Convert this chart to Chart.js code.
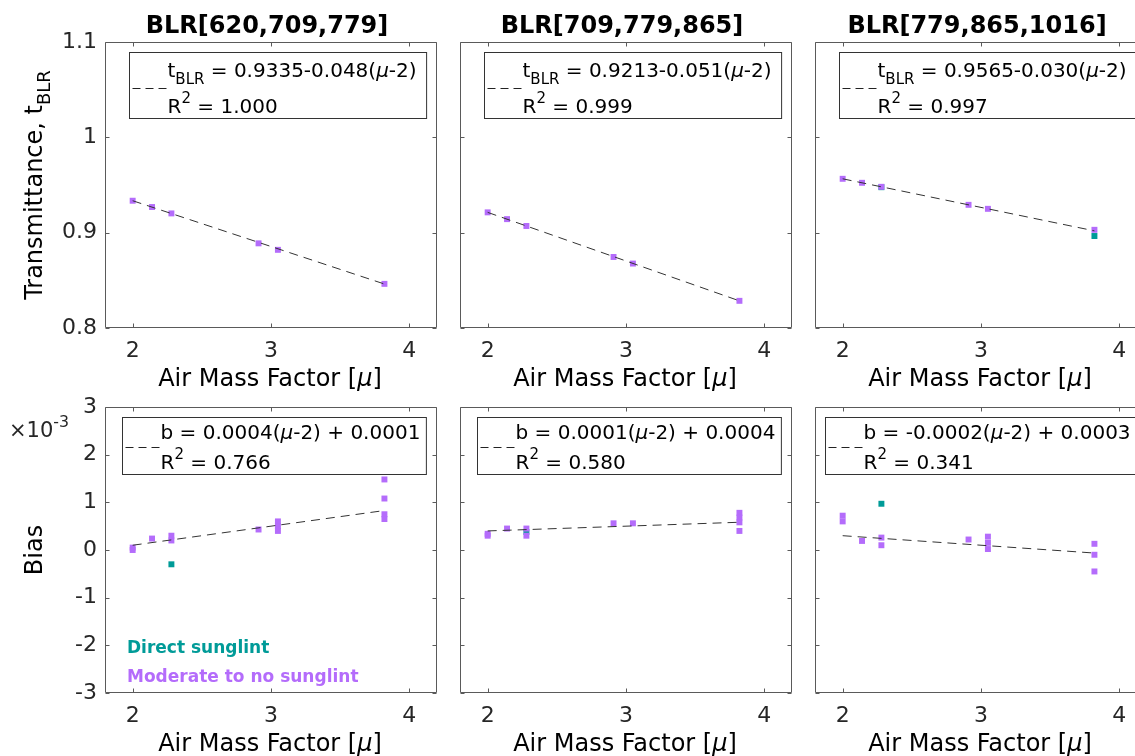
<!DOCTYPE html>
<html>
<head>
<meta charset="utf-8">
<title>BLR transmittance and bias</title>
<script src="https://cdn.jsdelivr.net/npm/chart.js@4.4.1/dist/chart.umd.min.js"></script>
<style>
    html, body { margin: 0; padding: 0; background: #fff; overflow: hidden; }
    #fig { position: relative; width: 1135px; height: 756px; overflow: hidden; }
    #fig canvas { position: absolute; }
</style>
</head>
<body>
<div id="fig"></div>
<script>
const airMass = [2.0, 2.14, 2.28, 2.91, 3.05, 3.82];
const bandNames = ['BLR[620,709,779]', 'BLR[709,779,865]', 'BLR[779,865,1016]'];

// transmittance, moderate to no sunglint
const transBand1 = [0.9335, 0.9269, 0.9202, 0.8888, 0.8820, 0.8463];
const transBand2 = [0.9213, 0.9142, 0.9070, 0.8745, 0.8676, 0.8285];
const transBand3 = [0.9565, 0.9523, 0.9481, 0.9292, 0.9250, 0.9030];

// transmittance, direct sunglint
const glintMassTrans = [2.28, 3.82];
const glintTransBand3 = [0.9477, 0.8965];

// bias (x10^-3), several retrievals per air mass
const biasBand1 = [[0.0, 0.05], [0.24], [0.30, 0.20], [0.43], [0.60, 0.50, 0.40], [1.48, 1.08, 0.75, 0.65]];
const biasBand2 = [[0.34, 0.30], [0.45], [0.45, 0.30], [0.56], [0.56], [0.78, 0.68, 0.58, 0.40]];
const biasBand3 = [[0.72, 0.60], [0.19], [0.26, 0.10], [0.22], [0.28, 0.15, 0.02], [0.13, -0.10, -0.45]];

// bias, direct sunglint
const glintMassBias = [2.28];
const glintBiasBand1 = [-0.30];
const glintBiasBand2 = [0.38];
const glintBiasBand3 = [0.97];

// linear fits
const transIntercept = [0.9335, 0.9213, 0.9565];
const transSlope = [-0.048, -0.051, -0.030];
const transR2 = ['1.000', '0.999', '0.997'];
const biasSlope = [0.0004, 0.0001, -0.0002];
const biasIntercept = [0.0001, 0.0004, 0.0003];
const biasR2 = ['0.766', '0.580', '0.341'];

// axis ticks
const massTicks = [2, 3, 4];
const transTicks = [0.8, 0.9, 1.0, 1.1];
const biasTicks = [-3, -2, -1, 0, 1, 2, 3];

const PURPLE = '#b46cfb';
const TEAL = '#009b98';
const INK = '#262626';
const FRAME = '#5a5a5a';
const FONT = '"DejaVu Sans", sans-serif';

// panel geometry: plot-area corners, y-axis strip and x-axis strip
const COL_LEFT = [105, 460, 815];
const ROW_TOP = [42, 407];
const AREA_W = 332;
const AXIS_W = 105;
const AXIS_H = 67;
const PAD_TOP = 42;
const PAD_RIGHT = 20;

const transRows = [transBand1, transBand2, transBand3];
const biasRows = [biasBand1, biasBand2, biasBand3];
const glintTrans = [[], [], glintTransBand3];
const glintBias = [glintBiasBand1, glintBiasBand2, glintBiasBand3];

function partFont(p, size) {
    const s = (p.sub || p.sup) ? size * 0.75 : size;
    return (p.it ? 'italic ' : '') + (p.bold ? 'bold ' : '') + s + 'px ' + FONT;
}

function richWidth(ctx, parts, size) {
    let w = 0;
    parts.forEach(p => {
        ctx.font = partFont(p, size);
        w += ctx.measureText(p.t).width;
    });
    return w;
}

// draw text made of plain / italic / sub / superscript pieces on one baseline
function drawRich(ctx, parts, x, y, size, align) {
    let cx = align === 'center' ? x - richWidth(ctx, parts, size) / 2 : x;
    ctx.textAlign = 'left';
    ctx.textBaseline = 'alphabetic';
    parts.forEach(p => {
        ctx.font = partFont(p, size);
        const dy = p.sub ? size * 0.35 : (p.sup ? -size * 0.5 : 0);
        ctx.fillText(p.t, cx, y + dy);
        cx += ctx.measureText(p.t).width;
    });
}

function legendLines(row, col) {
    if (row === 0) {
        const b = transIntercept[col];
        const m = transSlope[col];
        const eq = ' = ' + b.toFixed(4) + (m < 0 ? '-' : '+') + Math.abs(m).toFixed(3) + '(';
        return [
            [{ t: 't' }, { t: 'BLR', sub: true }, { t: eq }, { t: 'μ', it: true }, { t: '-2)' }],
            [{ t: 'R' }, { t: '2', sup: true }, { t: ' = ' + transR2[col] }]
        ];
    }
    return [
        [{ t: 'b = ' + biasSlope[col].toFixed(4) + '(' }, { t: 'μ', it: true },
         { t: '-2) + ' + biasIntercept[col].toFixed(4) }],
        [{ t: 'R' }, { t: '2', sup: true }, { t: ' = ' + biasR2[col] }]
    ];
}

// frame, inward ticks, legend box and labels for one panel
function decorPlugin(row, col) {
    return {
        id: 'decor',
        afterDraw(chart) {
            const ctx = chart.ctx;
            const a = chart.chartArea;
            const xs = chart.scales.x;
            const ys = chart.scales.y;
            const L = Math.round(a.left) + 0.5;
            const R = Math.round(a.right) - 0.5;
            const T = Math.round(a.top) + 0.5;
            const B = Math.round(a.bottom) - 0.5;
            const tick = 4;

            ctx.save();
            ctx.strokeStyle = FRAME;
            ctx.lineWidth = 1;
            ctx.beginPath();
            ctx.rect(L, T, R - L, B - T);
            massTicks.forEach(v => {
                const px = Math.round(xs.getPixelForValue(v)) + 0.5;
                ctx.moveTo(px, B); ctx.lineTo(px, B - tick);
                ctx.moveTo(px, T); ctx.lineTo(px, T + tick);
            });
            (row === 0 ? transTicks : biasTicks).forEach(v => {
                const py = Math.round(ys.getPixelForValue(v)) + 0.5;
                ctx.moveTo(L, py); ctx.lineTo(L + tick, py);
                ctx.moveTo(R, py); ctx.lineTo(R - tick, py);
            });
            ctx.stroke();

            // fit legend, anchored to the upper right corner
            const size = 20;
            const lines = legendLines(row, col);
            const textW = Math.max(...lines.map(l => richWidth(ctx, l, size)));
            const boxW = 38 + textW + (row === 0 ? 10 : 6);
            const boxH = row === 0 ? 66 : 57;
            const bx = Math.round(a.right - 11 - boxW) + 0.5;
            const by = Math.round(a.top + 10) + 0.5;
            ctx.fillStyle = '#fff';
            ctx.fillRect(bx, by, boxW, boxH);
            ctx.strokeStyle = '#333';
            ctx.strokeRect(bx, by, boxW, boxH);
            const sampleY = Math.round(by + (row === 0 ? 35 : 29)) + 0.5;
            ctx.setLineDash([8, 5]);
            ctx.strokeStyle = '#222';
            ctx.beginPath();
            ctx.moveTo(bx + 3, sampleY);
            ctx.lineTo(bx + 37, sampleY);
            ctx.stroke();
            ctx.setLineDash([]);
            ctx.fillStyle = '#000';
            const base1 = row === 0 ? 24 : 21;
            const base2 = row === 0 ? 60 : 51;
            drawRich(ctx, lines[0], bx + 38, by + base1, size, 'left');
            drawRich(ctx, lines[1], bx + 38, by + base2, size, 'left');

            const midX = (a.left + a.right) / 2;
            ctx.fillStyle = '#000';
            if (row === 0) {
                drawRich(ctx, [{ t: bandNames[col], bold: true }], midX - 4, a.top - 9, 24, 'center');
            }
            drawRich(ctx, [{ t: 'Air Mass Factor [' }, { t: 'μ', it: true }, { t: ']' }],
                midX - 1, a.bottom + 58, 24, 'center');

            if (col === 0) {
                const midY = (a.top + a.bottom) / 2;
                ctx.save();
                ctx.translate(42, midY);
                ctx.rotate(-Math.PI / 2);
                const yTitle = row === 0
                    ? [{ t: 'Transmittance, t' }, { t: 'BLR', sub: true }]
                    : [{ t: 'Bias' }];
                drawRich(ctx, yTitle, 0, 0, 24, 'center');
                ctx.restore();
            }

            if (row === 1 && col === 0) {
                ctx.fillStyle = INK;
                drawRich(ctx, [{ t: '×10' }, { t: '-3', sup: true }], 9, a.top + 30, 21, 'left');
                ctx.fillStyle = TEAL;
                drawRich(ctx, [{ t: 'Direct sunglint', bold: true }], a.left + 22, a.bottom - 40, 17, 'left');
                ctx.fillStyle = PURPLE;
                drawRich(ctx, [{ t: 'Moderate to no sunglint', bold: true }], a.left + 22, a.bottom - 11, 17, 'left');
            }
            ctx.restore();
        }
    };
}

function panelData(row, col) {
    const purple = [];
    const teal = [];
    let fit;
    const x0 = airMass[0];
    const x1 = airMass[airMass.length - 1];
    if (row === 0) {
        airMass.forEach((x, i) => purple.push({ x: x, y: transRows[col][i] }));
        glintTrans[col].forEach((y, i) => teal.push({ x: glintMassTrans[i], y: y }));
        fit = [x0, x1].map(x => ({ x: x, y: transIntercept[col] + transSlope[col] * (x - 2) }));
    } else {
        airMass.forEach((x, i) => biasRows[col][i].forEach(y => purple.push({ x: x, y: y })));
        glintBias[col].forEach((y, i) => teal.push({ x: glintMassBias[i], y: y }));
        fit = [x0, x1].map(x => ({ x: x, y: (biasIntercept[col] + biasSlope[col] * (x - 2)) * 1000 }));
    }
    return [
        {
            data: fit,
            showLine: true,
            borderColor: '#333',
            borderWidth: 1,
            borderDash: [9, 6],
            pointRadius: 0,
            order: 0
        },
        {
            data: purple,
            pointStyle: 'rect',
            pointRadius: 4.2,
            backgroundColor: PURPLE,
            borderWidth: 0,
            order: 1
        },
        {
            data: teal,
            pointStyle: 'rect',
            pointRadius: 4.2,
            backgroundColor: TEAL,
            borderWidth: 0,
            order: 2
        }
    ];
}

// tick values print as 1, 0.9, -3 ... without padded decimals
const tickText = v => String(parseFloat(Number(v).toFixed(4)));

function makePanel(row, col) {
    const canvas = document.createElement('canvas');
    const w = AXIS_W + AREA_W + PAD_RIGHT;
    const h = PAD_TOP + 286 + AXIS_H;
    canvas.width = w;
    canvas.height = h;
    canvas.style.width = w + 'px';
    canvas.style.height = h + 'px';
    canvas.style.left = (COL_LEFT[col] - AXIS_W) + 'px';
    canvas.style.top = (ROW_TOP[row] - PAD_TOP) + 'px';
    document.getElementById('fig').appendChild(canvas);

    const yTicks = row === 0 ? transTicks : biasTicks;

    return new Chart(canvas.getContext('2d'), {
        type: 'scatter',
        data: { datasets: panelData(row, col) },
        options: {
            responsive: false,
            animation: false,
            devicePixelRatio: 1,
            layout: { padding: { top: PAD_TOP, right: PAD_RIGHT, left: 0, bottom: 0 } },
            plugins: {
                legend: { display: false },
                tooltip: { enabled: false },
                title: { display: false }
            },
            scales: {
                x: {
                    type: 'linear',
                    min: 1.8,
                    max: 4.2,
                    grid: { display: false, drawTicks: false },
                    border: { display: false },
                    ticks: {
                        color: INK,
                        padding: 10,
                        font: { family: FONT, size: 22 },
                        callback: tickText
                    },
                    afterBuildTicks: s => { s.ticks = massTicks.map(v => ({ value: v })); },
                    afterFit: s => { s.height = AXIS_H; }
                },
                y: {
                    type: 'linear',
                    min: yTicks[0],
                    max: yTicks[yTicks.length - 1],
                    grid: { display: false, drawTicks: false },
                    border: { display: false },
                    ticks: {
                        display: col === 0,
                        color: INK,
                        padding: 8,
                        font: { family: FONT, size: 22 },
                        callback: tickText
                    },
                    afterBuildTicks: s => { s.ticks = yTicks.map(v => ({ value: v })); },
                    afterFit: s => { s.width = AXIS_W; }
                }
            }
        },
        plugins: [decorPlugin(row, col)]
    });
}

[0, 1].forEach(row => [0, 1, 2].forEach(col => makePanel(row, col)));
</script>
</body>
</html>
